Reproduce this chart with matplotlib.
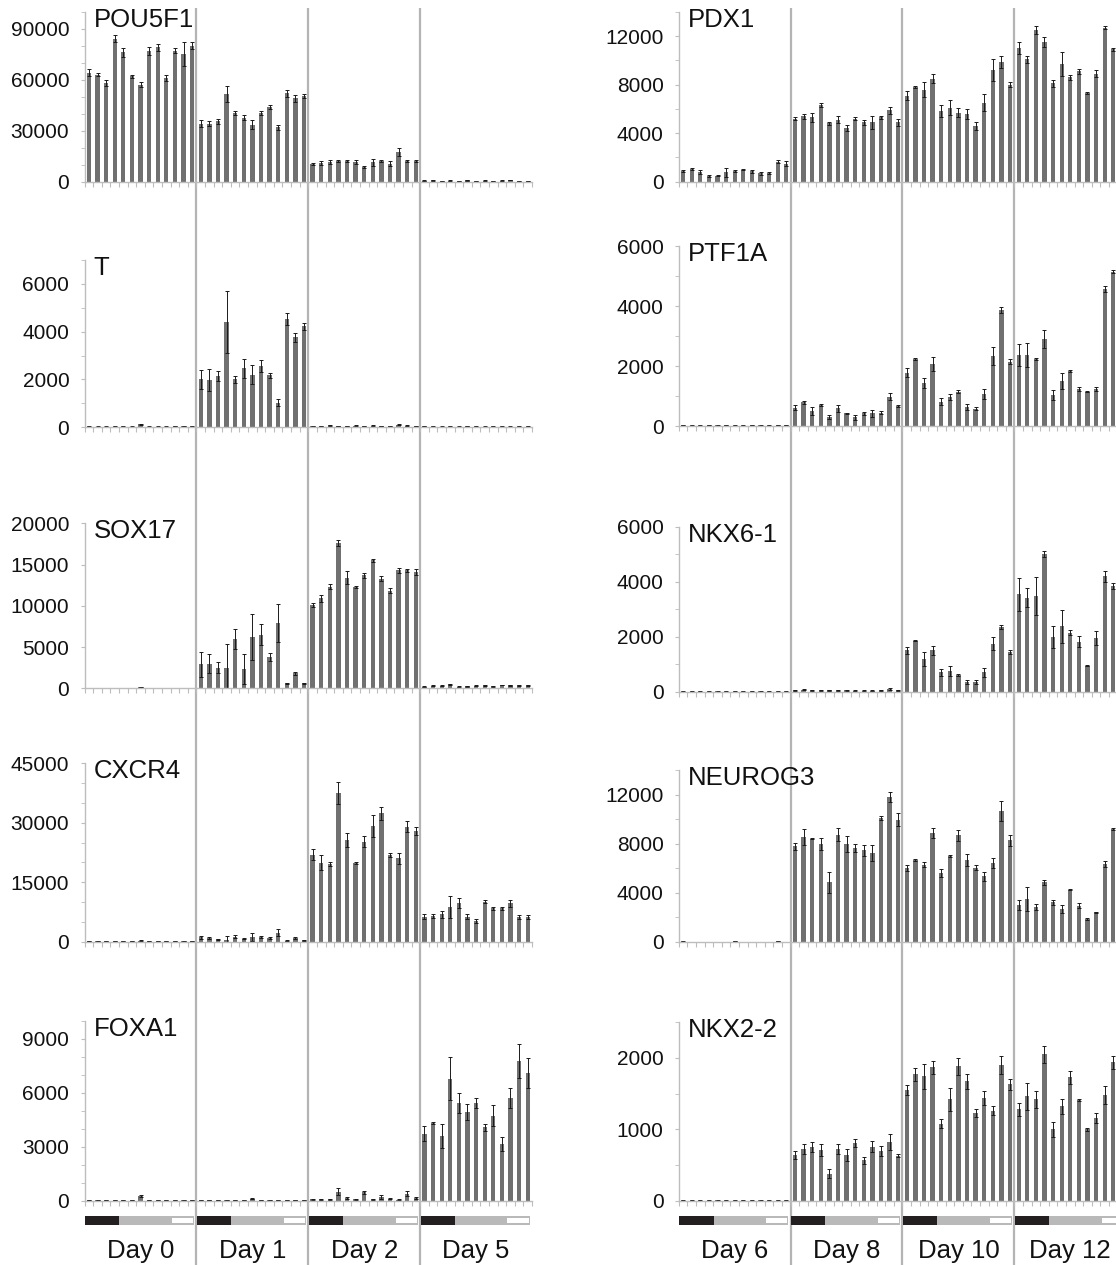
import numpy as np
import matplotlib
matplotlib.use("Agg")
import matplotlib.pyplot as plt
from matplotlib.ticker import MultipleLocator, NullLocator
from matplotlib.transforms import offset_copy, blended_transform_factory

plt.rcParams['font.family'] = ['Liberation Sans', 'DejaVu Sans']

# ---------------- data ----------------
days_left = ['Day 0', 'Day 1', 'Day 2', 'Day 5']
days_right = ['Day 6', 'Day 8', 'Day 10', 'Day 12']
bars_per_day = 13
condition_blocks = [4, 6, 3]   # black / grey / white segments of the condition strip

genes_left = ['POU5F1', 'T', 'SOX17', 'CXCR4', 'FOXA1']
genes_right = ['PDX1', 'PTF1A', 'NKX6-1', 'NEUROG3', 'NKX2-2']

POU5F1 = [64000, 63000, 58000, 84000, 76000, 62000, 57000, 77000, 79000, 61000, 77000, 75000, 80000,
          34000, 34000, 35500, 51500, 40500, 37500, 33500, 40500, 44000, 32000, 52000, 49000, 50500,
          10500, 11000, 11500, 12000, 12000, 11500, 8500, 11500, 12000, 10500, 17500, 12000, 12000,
          600, 800, 500, 700, 500, 800, 400, 700, 500, 600, 900, 500, 400]
POU5F1_err = [2000, 1000, 2000, 2000, 2500, 1000, 1500, 2500, 2000, 2000, 1500, 7000, 2000,
              2000, 1500, 1500, 4500, 1000, 1500, 2500, 1000, 1000, 1500, 2000, 2000, 1000,
              500, 1000, 1000, 500, 500, 1000, 500, 2000, 500, 1500, 2500, 500, 500,
              150, 150, 150, 150, 150, 150, 150, 150, 150, 150, 150, 150, 150]

T = [40, 30, 30, 40, 40, 30, 130, 30, 30, 30, 60, 50, 40,
     2000, 1980, 2150, 4400, 2000, 2470, 2200, 2550, 2170, 1030, 4520, 3760, 4220,
     60, 50, 80, 50, 50, 70, 50, 70, 60, 50, 100, 70, 50,
     40, 40, 30, 40, 30, 40, 40, 30, 40, 40, 30, 40, 40]
T_err = [10, 10, 10, 10, 10, 10, 20, 10, 10, 10, 10, 10, 10,
         400, 450, 200, 1300, 150, 400, 400, 250, 120, 150, 250, 200, 150,
         10, 10, 20, 10, 10, 10, 10, 10, 10, 10, 20, 10, 10,
         10, 10, 10, 10, 10, 10, 10, 10, 10, 10, 10, 10, 10]

SOX17 = [40, 40, 40, 40, 40, 40, 150, 40, 40, 40, 40, 40, 40,
         2900, 3000, 2500, 2500, 6000, 2300, 6200, 6500, 3800, 7900, 600, 1800, 600,
         10100, 10900, 12300, 17600, 13400, 12300, 13700, 15500, 13300, 11800, 14300, 14300, 14100,
         200, 300, 300, 500, 200, 250, 300, 350, 250, 400, 350, 350, 350]
SOX17_err = [10, 10, 10, 10, 10, 10, 30, 10, 10, 10, 10, 10, 10,
             1500, 1200, 700, 2900, 1200, 1800, 2800, 1300, 500, 2300, 100, 200, 100,
             300, 400, 300, 400, 800, 150, 300, 150, 300, 300, 300, 200, 400,
             50, 50, 50, 80, 50, 50, 50, 50, 50, 50, 50, 50, 50]

CXCR4 = [200, 200, 200, 250, 250, 200, 300, 250, 200, 200, 200, 200, 200,
         1100, 1000, 600, 500, 1300, 800, 1200, 1200, 900, 2300, 300, 900, 400,
         21900, 19900, 19600, 37600, 25700, 19800, 25200, 29200, 32400, 21900, 21000, 29000, 27900,
         6300, 6500, 6900, 8700, 9800, 6300, 5100, 10100, 8400, 8400, 9700, 6300, 6300]
CXCR4_err = [50, 50, 50, 50, 50, 50, 50, 50, 50, 50, 50, 50, 50,
             300, 300, 200, 900, 300, 200, 900, 300, 200, 900, 100, 200, 100,
             1400, 1900, 500, 2800, 1700, 300, 1400, 2800, 1700, 600, 1300, 1400, 1100,
             600, 400, 900, 2800, 1300, 600, 500, 300, 400, 300, 900, 500, 500]

FOXA1 = [40, 50, 30, 50, 40, 40, 250, 40, 30, 40, 50, 40, 40,
         30, 30, 30, 30, 30, 30, 120, 30, 30, 30, 30, 30, 30,
         70, 80, 80, 500, 150, 80, 460, 80, 200, 110, 60, 400, 150,
         3730, 4320, 3600, 6780, 5430, 4930, 5430, 4070, 4730, 3160, 5710, 7760, 7100]
FOXA1_err = [10, 10, 10, 10, 10, 10, 40, 10, 10, 10, 10, 10, 10,
             10, 10, 10, 10, 10, 10, 20, 10, 10, 10, 10, 10, 10,
             20, 20, 20, 200, 50, 20, 60, 20, 100, 30, 20, 120, 30,
             400, 50, 650, 1200, 570, 470, 300, 200, 600, 400, 570, 960, 850]

PDX1 = [870, 1040, 820, 460, 490, 790, 870, 1000, 850, 680, 710, 1660, 1500,
        5200, 5400, 5300, 6300, 4800, 5100, 4400, 5200, 4900, 4900, 5300, 5900, 4900,
        7100, 7800, 7600, 8500, 5800, 6100, 5700, 5600, 4600, 6500, 9200, 9900, 8000,
        11000, 10100, 12500, 11500, 8100, 9700, 8600, 9100, 7300, 8900, 12700, 10900, 10000]
PDX1_err = [100, 80, 150, 60, 60, 380, 100, 60, 120, 150, 60, 100, 200,
            150, 200, 400, 150, 100, 300, 250, 150, 200, 550, 100, 300, 300,
            400, 100, 600, 400, 500, 600, 400, 400, 300, 700, 900, 500, 200,
            500, 300, 300, 400, 300, 1000, 200, 200, 100, 300, 100, 150, 200]

PTF1A = [30, 20, 20, 40, 20, 30, 20, 20, 30, 20, 20, 30, 30,
         610, 790, 500, 700, 310, 590, 420, 290, 420, 420, 450, 980, 670,
         1780, 2240, 1430, 2070, 810, 980, 1150, 620, 570, 1070, 2340, 3880, 2150,
         2370, 2370, 2230, 2900, 1040, 1500, 1830, 1230, 1150, 1230, 4570, 5150, 5000]
PTF1A_err = [10, 10, 10, 10, 10, 10, 10, 10, 10, 10, 10, 10, 10,
             90, 50, 140, 30, 70, 110, 30, 80, 40, 130, 40, 120, 30,
             150, 30, 170, 230, 120, 100, 40, 100, 50, 180, 310, 100, 80,
             380, 400, 30, 300, 160, 280, 30, 70, 30, 60, 110, 40, 100]

NKX6_1 = [10, 10, 10, 10, 10, 10, 10, 10, 10, 10, 10, 10, 10,
          60, 70, 60, 50, 50, 60, 50, 40, 40, 40, 50, 90, 60,
          1500, 1850, 1200, 1500, 700, 750, 600, 350, 350, 700, 1750, 2350, 1450,
          3550, 3420, 3480, 5000, 2000, 2380, 2150, 1820, 950, 1940, 4200, 3850, 3800]
NKX6_1_err = [5, 5, 5, 5, 5, 5, 5, 5, 5, 5, 5, 5, 5,
              20, 20, 20, 20, 20, 20, 20, 20, 20, 20, 20, 30, 20,
              120, 20, 250, 150, 120, 170, 30, 80, 70, 150, 250, 70, 70,
              600, 350, 700, 100, 400, 600, 100, 200, 30, 250, 200, 100, 100]

NEUROG3 = [20, 10, 10, 10, 10, 10, 60, 10, 10, 10, 10, 30, 10,
           7770, 8540, 8400, 7960, 4830, 8730, 7990, 7640, 7450, 7230, 10060, 11810, 9950,
           6000, 6680, 6270, 8860, 5590, 7010, 8670, 6680, 6050, 5320, 6410, 10690, 8260,
           3000, 3490, 2810, 4850, 3220, 2650, 4230, 2950, 1850, 2400, 6350, 9190, 9000]
NEUROG3_err = [10, 5, 5, 5, 5, 5, 20, 5, 5, 5, 5, 10, 5,
               270, 650, 50, 490, 820, 540, 660, 320, 460, 680, 150, 380, 550,
               270, 100, 200, 410, 330, 100, 470, 470, 220, 330, 410, 820, 470,
               410, 1000, 240, 200, 190, 350, 50, 240, 50, 50, 250, 100, 100]

NKX2_2 = [10, 10, 10, 10, 10, 10, 10, 10, 10, 10, 10, 10, 10,
          640, 730, 760, 710, 380, 730, 640, 810, 570, 760, 700, 820, 630,
          1550, 1770, 1740, 1870, 1080, 1420, 1880, 1670, 1230, 1440, 1260, 1900, 1630,
          1280, 1460, 1420, 2050, 1000, 1320, 1730, 1410, 1000, 1160, 1480, 1940, 1900]
NKX2_2_err = [5, 5, 5, 5, 5, 5, 5, 5, 5, 5, 5, 5, 5,
              60, 70, 70, 80, 60, 70, 80, 60, 50, 80, 70, 110, 20,
              70, 90, 180, 90, 60, 160, 120, 100, 60, 100, 60, 120, 80,
              90, 190, 120, 120, 100, 100, 90, 20, 20, 70, 130, 90, 90]

# y-axis settings per gene: (ymax, major step, minor step)
axis_left = [(100000, 30000, 10000), (7000, 2000, 1000), (20000, 5000, None),
             (45000, 15000, 5000), (10000, 3000, 1000)]
axis_right = [(14000, 4000, 2000), (6000, 2000, 1000), (6000, 2000, 1000),
              (14000, 4000, 2000), (2500, 1000, 500)]

values_left = [(POU5F1, POU5F1_err), (T, T_err), (SOX17, SOX17_err), (CXCR4, CXCR4_err), (FOXA1, FOXA1_err)]
values_right = [(PDX1, PDX1_err), (PTF1A, PTF1A_err), (NKX6_1, NKX6_1_err),
                (NEUROG3, NEUROG3_err), (NKX2_2, NKX2_2_err)]

# ---------------- layout (pixels) ----------------
W, H = 1116, 1265
fig = plt.figure(figsize=(W / 100, H / 100), dpi=100)

col_x = [84.6, 678.8]
col_w = 447.4
rows_left = [(11.7, 181.7), (260, 427.3), (523.3, 688.3), (763.3, 941.7), (1020.7, 1200.7)]
rows_right = [(11.9, 181.7), (246, 426), (526.7, 691.7), (770, 941.7), (1022, 1201)]
strip_px = (1215.7, 1225.3)
label_baseline = 1258
sep_top = 8

BAR = '#707070'
AXC = '#bdbdbd'
SEP = '#b4b4b4'

n_total = bars_per_day * 4
xpos = np.arange(n_total)
xlim = (-0.5, n_total - 0.5)


def rect(x0, top, w, bottom):
    return [x0 / W, 1 - bottom / H, w / W, (bottom - top) / H]


def draw_column(cx, genes, vals, axcfg, rows, days):
    # separators: overlay axes spanning the column height
    sep = fig.add_axes(rect(cx, sep_top, col_w, H), zorder=0)
    sep.set_xlim(*xlim)
    sep.set_ylim(0, 1)
    sep.axis('off')
    for k in range(1, len(days)):
        sep.axvline(k * bars_per_day - 0.5, color=SEP, lw=1.6)

    for gene, (v, e), (ymax, maj, mnr), (top, bot) in zip(genes, vals, axcfg, rows):
        ax = fig.add_axes(rect(cx, top, col_w, bot), zorder=1)
        ax.set_facecolor('none')
        ax.bar(xpos, v, width=0.5, color=BAR, yerr=e,
               error_kw=dict(ecolor='#1a1a1a', elinewidth=0.7, capsize=1.3, capthick=0.7))
        ax.set_xlim(*xlim)
        ax.set_ylim(0, ymax)
        for s in ('top', 'right'):
            ax.spines[s].set_visible(False)
        for s in ('left', 'bottom'):
            ax.spines[s].set_color(AXC)
            ax.spines[s].set_linewidth(1.0)
        ax.yaxis.set_major_locator(MultipleLocator(maj))
        if mnr:
            ax.yaxis.set_minor_locator(MultipleLocator(mnr))
        ax.tick_params(axis='y', which='major', direction='out', length=3, color=AXC,
                       labelsize=15, pad=8, labelcolor='#111111')
        ax.tick_params(axis='y', which='minor', direction='out', length=3, color=AXC)
        ax.set_xticks(np.arange(-0.5, n_total, 1.0))
        ax.set_xticklabels([])
        ax.xaxis.set_minor_locator(NullLocator())
        ax.tick_params(axis='x', which='major', direction='out', length=3.5, color=AXC, width=0.8)
        ax.text(0, 1, gene, transform=offset_copy(ax.transAxes, fig, x=9, y=4, units='dots'),
                ha='left', va='top', fontsize=18.5, color='#111111')

    # condition strip + day labels
    st = fig.add_axes(rect(cx, strip_px[0], col_w, strip_px[1]), zorder=1)
    st.set_xlim(*xlim)
    st.set_ylim(0, 1)
    st.axis('off')
    nb, ng, nw = condition_blocks
    for k in range(len(days)):
        g0 = k * bars_per_day - 0.5
        st.bar(g0 + 0.05, 1, width=bars_per_day - 0.3, bottom=0, align='edge',
               color='#b9b9b9', edgecolor='none')
        st.bar(g0 + 0.05, 1, width=nb, bottom=0, align='edge', color='#231f20', edgecolor='none')
        st.bar(g0 + nb + ng + 0.15, 0.6, width=nw - 0.55, bottom=0.2, align='edge',
               color='white', edgecolor='none')
    tr = blended_transform_factory(st.transData, fig.transFigure)
    for k, d in enumerate(days):
        st.text(k * bars_per_day + (bars_per_day - 1) / 2, 1 - label_baseline / H, d,
                transform=tr, ha='center', va='baseline', fontsize=18.5, color='#111111',
                clip_on=False)


draw_column(col_x[0], genes_left, values_left, axis_left, rows_left, days_left)
draw_column(col_x[1], genes_right, values_right, axis_right, rows_right, days_right)

fig.savefig('out.png', dpi=100, facecolor='white')
